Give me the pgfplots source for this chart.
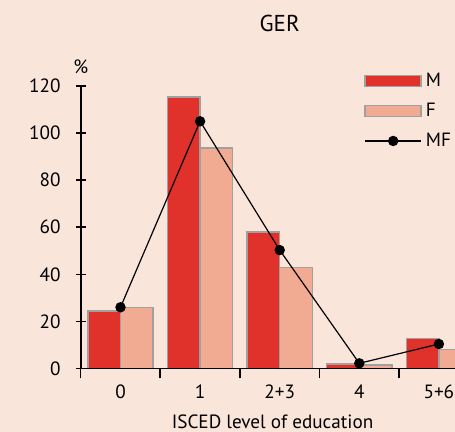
\documentclass[border=0pt]{standalone}
\usepackage{fontspec}
\setmainfont{PT Sans}
\usepackage{pgfplots}
\pgfplotsset{compat=1.18}
\definecolor{bg}{HTML}{FAE5DA}
\definecolor{mred}{HTML}{E0312A}
\definecolor{fsal}{HTML}{F2AB93}
\definecolor{edge}{HTML}{A0A0A0}
\begin{document}
\begin{tikzpicture}[font=\fontsize{9.6}{11}\selectfont]
\path[use as bounding box, fill=bg] (0,0) rectangle (227.5pt,216pt);
\clip (0,0) rectangle (227.5pt,216pt);
\begin{axis}[
  scale only axis, width=199pt, height=141.25pt,
  at={(40.35pt,31.75pt)}, anchor=south west,
  xmin=-0.5, xmax=4.5, ymin=0, ymax=120,
  clip mode=individual,
  axis on top,
  axis lines*=left, axis line style={-, line width=0.9pt, black},
  xtick align=outside, ytick align=center,
  major tick length=5pt,
  ytick={0,20,...,120},
  ytick style={black, line width=0.8pt},
  yticklabel style={anchor=east, xshift=-4pt},
  xtick={-0.5,0.5,...,4.5},
  x tick label as interval,
  xticklabels={0,1,2+3,4,5+6},
  xtick style={black, line width=0.8pt},
  xticklabel style={yshift=0.5pt},
  /pgf/number format/assume math mode=true,
  legend style={draw=none, fill=none, at={(0.712,1.062)}, anchor=north west, inner sep=0pt, row sep=2.75pt, font=\fontsize{9.6}{11}\selectfont},
  legend cell align=left,
]
\addplot[ybar, bar width=0.41, bar shift=-0.205, fill=mred, draw=edge, line width=0.7pt,
  legend image code/.code={\draw[fill=mred, draw=edge, line width=0.7pt] (0pt,-2.75pt) rectangle (28pt,2.75pt);}]
  coordinates {(0,24.5) (1,115.3) (2,58) (3,1.9) (4,12.7)};
\addlegendentry{M}
\addplot[ybar, bar width=0.41, bar shift=0.205, fill=fsal, draw=edge, line width=0.7pt,
  legend image code/.code={\draw[fill=fsal, draw=edge, line width=0.7pt] (0pt,-2.75pt) rectangle (28pt,2.75pt);}]
  coordinates {(0,25.8) (1,93.6) (2,43) (3,1.4) (4,8)};
\addlegendentry{F}
\addplot[black, line width=0.6pt, mark=*, mark size=2.3pt,
  legend image code/.code={\draw[black, line width=0.6pt] (0pt,0pt) -- (28pt,0pt); \fill[black] (14pt,0pt) circle (2.3pt);}]
  coordinates {(0,26) (1,105) (2,50.3) (3,2.2) (4,10.4)};
\addlegendentry{MF}
\node[font=\fontsize{11.5}{13}\selectfont] at (rel axis cs:0.5,1) [yshift=31.25pt] {GER};
\node at (rel axis cs:0,1) [yshift=9.5pt] {\%};
\node at (rel axis cs:0.482,0) [yshift=-26.6pt] {ISCED level of education};
\end{axis}
\end{tikzpicture}
\end{document}
